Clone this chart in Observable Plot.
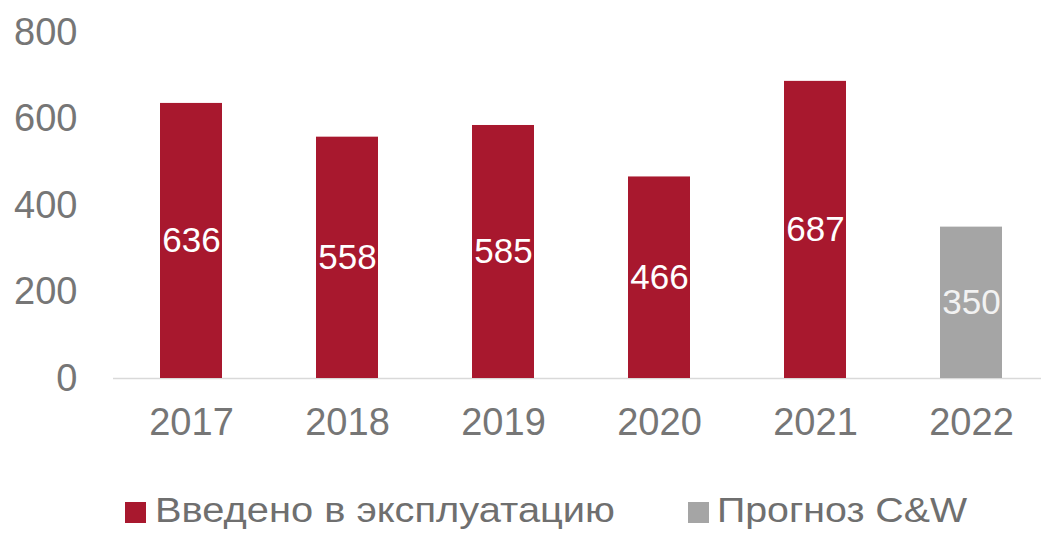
<!DOCTYPE html>
<html>
<head>
<meta charset="utf-8">
<script src="https://cdn.jsdelivr.net/npm/d3@7"></script>
<script src="https://cdn.jsdelivr.net/npm/@observablehq/plot@0.6"></script>
<style>
  html, body { margin: 0; padding: 0; background: #fff; }
  #chart svg { display: block; }
  #legend { display: block; }
</style>
</head>
<body>
<div id="chart"></div>
<svg id="legend" width="1041" height="63"></svg>
<script>
const years = ["2017", "2018", "2019", "2020", "2021", "2022"];
const values = [636, 558, 585, 466, 687, 350];
const series = ["Введено в эксплуатацию", "Введено в эксплуатацию", "Введено в эксплуатацию", "Введено в эксплуатацию", "Введено в эксплуатацию", "Прогноз C&W"];
const seriesNames = ["Введено в эксплуатацию", "Прогноз C&W"];
const seriesColors = ["#A8182E", "#A5A5A5"];
const yTicks = [0, 200, 400, 600, 800];

const data = years.map((y, i) => ({year: y, value: values[i], series: series[i]}));

const font = "'Liberation Sans', Arial, sans-serif";

const chart = Plot.plot({
  width: 1041,
  height: 470,
  marginTop: 32,
  marginBottom: 92,
  marginLeft: 113,
  marginRight: 0,
  style: {fontFamily: font, background: "#fff"},
  x: {domain: years, range: [113, 1049], paddingInner: 0.6, paddingOuter: 0.3, label: null},
  y: {domain: [0, 800], label: null},
  color: {domain: seriesNames, range: seriesColors},
  marks: [
    Plot.ruleY([0], {stroke: "#d9d9d9", strokeWidth: 1.5}),
    Plot.barY(data, {x: "year", y: "value", fill: "series"}),
    Plot.text(data, {
      x: "year",
      y: d => d.value / 2,
      text: d => String(d.value),
      fill: d => d.series === seriesNames[1] ? "#f2f2f2" : "#ffffff",
      fontSize: 35,
      fontFamily: font
    }),
    Plot.axisY(yTicks, {tickSize: 0, tickPadding: 36, fontSize: 38, fill: "#767676", fontFamily: font}),
    Plot.axisX({tickSize: 0, tickPadding: 30, fontSize: 38, fill: "#767676", fontFamily: font})
  ]
});
document.getElementById("chart").appendChild(chart);

// Legend
const legend = d3.select("#legend");
const items = [
  {name: seriesNames[0], color: seriesColors[0], sx: 125, tx: 155, len: 460},
  {name: seriesNames[1], color: seriesColors[1], sx: 688, tx: 717, len: 250}
];
items.forEach(it => {
  legend.append("rect").attr("x", it.sx).attr("y", 32).attr("width", 21).attr("height", 21).attr("fill", it.color);
  legend.append("text")
    .attr("x", it.tx).attr("y", 52)
    .attr("font-family", font).attr("font-size", 35)
    .attr("fill", "#6f6f6f")
    .attr("textLength", it.len).attr("lengthAdjust", "spacingAndGlyphs")
    .text(it.name);
});
</script>
</body>
</html>
